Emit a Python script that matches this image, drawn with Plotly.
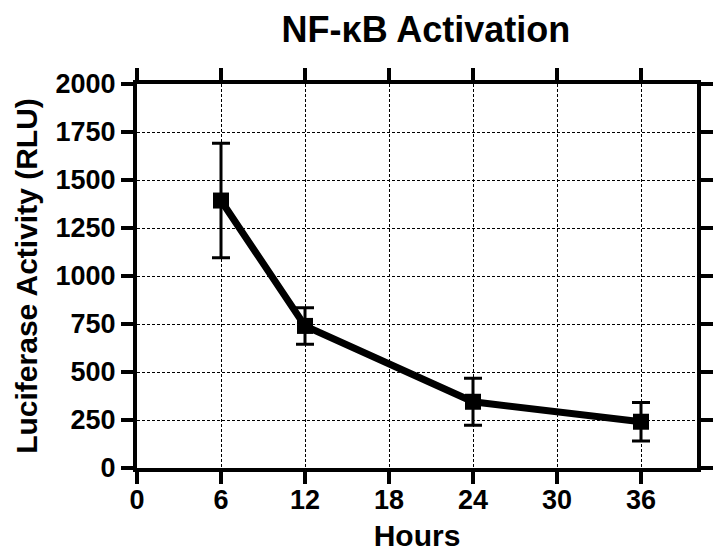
import plotly.graph_objects as go

hours = [6, 12, 24, 36]
activity = [1393, 740, 345, 241]
sem = [298, 95, 122, 100]

x_ticks = [0, 6, 12, 18, 24, 30, 36]
y_ticks = [0, 250, 500, 750, 1000, 1250, 1500, 1750, 2000]

FONT = "Liberation Sans, Arial, Helvetica, sans-serif"

fig = go.Figure()
fig.add_trace(go.Scatter(
    x=hours, y=activity,
    mode="lines+markers",
    line=dict(color="black", width=7),
    marker=dict(symbol="square", size=16, color="black"),
    error_y=dict(type="data", array=sem, visible=True, color="black",
                 thickness=3, width=9),
    showlegend=False,
))

axis_common = dict(
    showline=True, linecolor="black", linewidth=4, mirror="ticks",
    ticks="outside", ticklen=12, tickwidth=4, tickcolor="black",
    showgrid=True, gridcolor="black", gridwidth=1, griddash="3px,2px",
    zeroline=False,
    tickfont=dict(family=FONT, size=27, color="black", weight=900),
)

fig.update_xaxes(
    range=[0, 40], tickvals=x_ticks, ticktext=[f"<b>{v}</b>" for v in x_ticks],
    ticklabelstandoff=-7,
    title=dict(text="<b>Hours</b>", font=dict(family=FONT, size=30, color="black"),
               standoff=12),
    **axis_common,
)
fig.update_yaxes(
    range=[0, 2000], tickvals=y_ticks, ticktext=[f"<b>{v}</b>" for v in y_ticks],
    title=dict(text="<b>Luciferase Activity (RLU)</b>",
               font=dict(family=FONT, size=30, color="black"),
               standoff=10),
    **axis_common,
)

fig.update_layout(
    width=716, height=559,
    margin=dict(l=137, r=3, t=84, b=91),
    paper_bgcolor="white", plot_bgcolor="white",
    title=dict(text="<b>NF-κB Activation</b>", x=0.516, xref="paper",
               y=1 - 29 / 559, yref="container", yanchor="middle",
               font=dict(family=FONT, size=36, color="black")),
)

fig.write_html("out.html")
